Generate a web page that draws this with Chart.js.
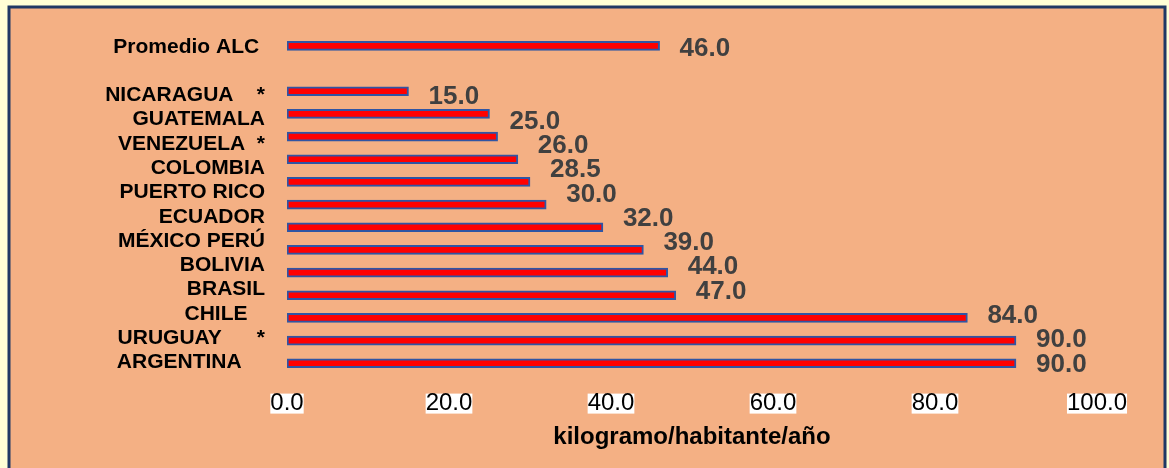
<!DOCTYPE html>
<html>
<head>
<meta charset="utf-8">
<script src="https://cdn.jsdelivr.net/npm/chart.js@4/dist/chart.umd.min.js"></script>
<style>
  html, body { margin: 0; padding: 0; background: #FFFFD6; }
  #wrap { width: 1169px; height: 468px; position: relative; }
</style>
</head>
<body>
<div id="wrap"><canvas id="c" width="1169" height="468"></canvas></div>
<script>
// ---- data ----
const barCategories = ['Promedio ALC', '', 'NICARAGUA', 'GUATEMALA', 'VENEZUELA', 'COLOMBIA', 'PUERTO RICO', 'ECUADOR', 'MÉXICO', 'PERÚ', 'BOLIVIA', 'BRASIL', 'CHILE', 'URUGUAY', 'ARGENTINA'];
const barValues = [46, null, 15, 25, 26, 28.5, 30, 32, 39, 44, 47, 48, 84, 90, 90];
const rowLabels = ['Promedio ALC ', '', 'NICARAGUA    *', 'GUATEMALA', 'VENEZUELA  *', 'COLOMBIA', 'PUERTO RICO', 'ECUADOR', 'MÉXICO PERÚ', 'BOLIVIA', 'BRASIL', 'CHILE   ', 'URUGUAY      *', 'ARGENTINA    '];
const rowValues = [46, null, 15, 25, 26, 28.5, 30, 32, 39, 44, 47, 84, 90, 90];
const xTicks = [0, 20, 40, 60, 80, 100];
const xTitle = 'kilogramo/habitante/año';

const FONT = '"Liberation Sans", Arial, sans-serif';

const framePlugin = {
  id: 'frame',
  beforeDraw(chart) {
    const ctx = chart.ctx;
    ctx.save();
    ctx.fillStyle = '#FFFFD6';
    ctx.fillRect(0, 0, chart.width, chart.height);
    ctx.fillStyle = '#F4B084';
    ctx.fillRect(9, 7, 1156, 470);
    ctx.strokeStyle = '#1F3864';
    ctx.lineWidth = 3;
    ctx.strokeRect(9, 7, 1156, 470);
    ctx.restore();
  }
};

// value labels: placed right of their value, pushed past any bar they would cover
const valueLabelPlugin = {
  id: 'valueLabels',
  afterDatasetsDraw(chart) {
    const ctx = chart.ctx;
    const xs = chart.scales.x;
    const ys = chart.scales.y2;
    const bars = chart.getDatasetMeta(0).data.filter((el, i) => barValues[i] !== null);
    ctx.save();
    ctx.font = 'bold 26px ' + FONT;
    ctx.fillStyle = '#404040';
    ctx.textAlign = 'left';
    ctx.textBaseline = 'middle';
    rowValues.forEach((v, i) => {
      if (v === null) return;
      const y = ys.getPixelForValue(i) + 2;
      let right = xs.getPixelForValue(v);
      bars.forEach(b => {
        if (Math.abs(b.y - y) < 10 + b.height / 2) right = Math.max(right, b.x);
      });
      ctx.fillText(v.toFixed(1), right + 20, y);
    });
    ctx.restore();
  }
};

new Chart(document.getElementById('c'), {
  type: 'bar',
  data: {
    labels: barCategories,
    datasets: [{
      data: barValues,
      backgroundColor: '#FF0000',
      borderColor: '#2F55A4',
      borderWidth: 2,
      borderSkipped: false,
      barThickness: 9,
      yAxisID: 'y',
      xAxisID: 'x'
    }]
  },
  options: {
    indexAxis: 'y',
    responsive: false,
    animation: false,
    devicePixelRatio: 1,
    layout: { padding: { top: 32.6, bottom: 16.6, left: 0, right: 72 } },
    plugins: { legend: { display: false }, tooltip: { enabled: false } },
    scales: {
      x: {
        type: 'linear',
        position: 'bottom',
        min: 0, max: 100,
        afterBuildTicks(scale) { scale.ticks = xTicks.map(v => ({ value: v })); },
        grid: { display: false, drawTicks: false },
        border: { display: false },
        ticks: {
          padding: 17,
          color: '#000',
          font: { family: FONT, size: 24, lineHeight: 1 },
          showLabelBackdrop: true,
          backdropColor: '#FFFFFF',
          backdropPadding: { top: -2, bottom: -2, left: 0, right: 0 },
          callback: v => Number(v).toFixed(1)
        },
        title: {
          display: true,
          text: xTitle,
          color: '#000',
          font: { family: FONT, size: 24, weight: 'bold', lineHeight: 1.2 },
          padding: { top: -10, bottom: 0 }
        }
      },
      y: {
        type: 'category',
        display: false,
        offset: true
      },
      y2: {
        type: 'category',
        position: 'left',
        labels: rowLabels,
        offset: true,
        afterFit(scale) { scale.width = 287; },
        grid: { display: false, drawTicks: false },
        border: { display: false },
        ticks: {
          autoSkip: false,
          padding: 22,
          color: '#000',
          font: { family: FONT, size: 21, weight: 'bold' }
        }
      }
    }
  },
  plugins: [framePlugin, valueLabelPlugin]
});
</script>
</body>
</html>
